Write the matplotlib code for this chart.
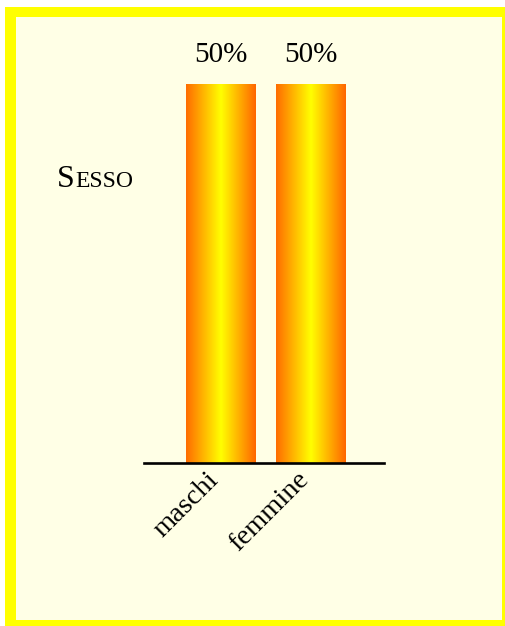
import numpy as np
import matplotlib
matplotlib.use("Agg")
import matplotlib.pyplot as plt
import matplotlib.transforms as mtransforms
from matplotlib.patches import Rectangle
from matplotlib.colors import LinearSegmentedColormap

categories = ["maschi", "femmine"]
values = [50, 50]
value_labels = ["50%", "50%"]

W, H = 505, 626
DPI = 100
fig = plt.figure(figsize=(W / DPI, H / DPI), dpi=DPI, facecolor="white")

def fx(px):
    return px / W

def fy(py):
    return 1 - py / H

# yellow frame with a cream panel inside
fig.patches.append(Rectangle((fx(5), 0), 1, fy(7), transform=fig.transFigure,
                             facecolor="#FFFF00", edgecolor="none", zorder=-2))
fig.patches.append(Rectangle((fx(16), fy(620)), fx(502) - fx(16), fy(17) - fy(620),
                             transform=fig.transFigure, facecolor="#FFFFE6",
                             edgecolor="none", zorder=-1))

serif = ["Liberation Serif", "DejaVu Serif"]

# plot area: axis line spans 144..384 px, bar tops at 84 px, baseline 463 px
ax = fig.add_axes([fx(144), fy(463), fx(384) - fx(144), fy(84) - fy(463)])
ax.set_facecolor("none")
x = np.arange(len(categories))
bar_w = 0.767

grad = LinearSegmentedColormap.from_list(
    "bar", ["#FF6C00", "#FFFF00", "#FF6600"])
g = np.linspace(0, 1, 256).reshape(1, -1)
for xi, v in zip(x, values):
    ax.imshow(g, cmap=grad, aspect="auto", interpolation="bilinear",
              extent=(xi - bar_w / 2, xi + bar_w / 2, 0, v), zorder=2)
for xi, v, lab in zip(x, values, value_labels):
    ax.annotate(lab, (xi, v), xytext=(0, 21), textcoords="offset points",
                ha="center", va="center", fontsize=21, family=serif, color="black")

for s in ["top", "right", "left"]:
    ax.spines[s].set_visible(False)
ax.spines["bottom"].set_linewidth(1.9)
ax.spines["bottom"].set_color("black")
ax.set_yticks([])
ax.set_xticks(x)
ax.set_xticklabels(categories, rotation=45, ha="right", va="top",
                   fontsize=20.5, family=serif)
ax.tick_params(axis="x", length=0, pad=3)
shift = mtransforms.ScaledTranslation(0.035, 0, fig.dpi_scale_trans)
for lbl in ax.get_xticklabels():
    lbl.set_transform(lbl.get_transform() + shift)
ax.set_xlim(-0.85, 1.817)
ax.set_ylim(0, 50)

# "Sesso" in small capitals
fig.text(fx(57), fy(187), "S", fontsize=23, family=serif, ha="left", va="baseline")
fig.text(fx(75.5), fy(187), "ESSO", fontsize=17, family=serif, ha="left", va="baseline")

fig.savefig("out.png", dpi=DPI, facecolor="white")
